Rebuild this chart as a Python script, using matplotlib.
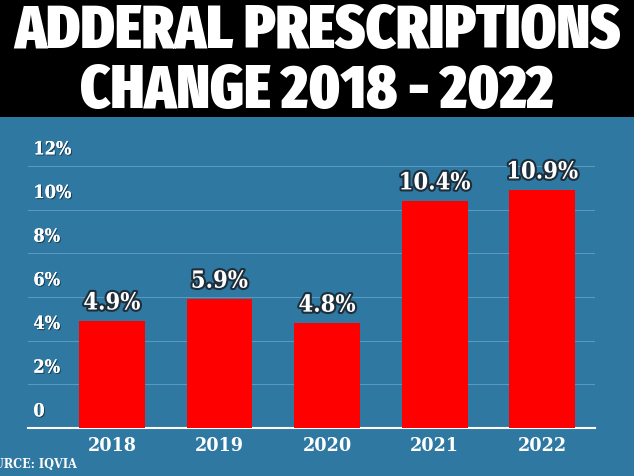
import matplotlib.pyplot as plt
import matplotlib.patheffects as pe

years = ["2018", "2019", "2020", "2021", "2022"]
values = [4.9, 5.9, 4.8, 10.4, 10.9]
yticks = [0, 2, 4, 6, 8, 10, 12]
ytick_labels = ["0", "2%", "4%", "6%", "8%", "10%", "12%"]

BLUE = "#2e78a2"
LABEL_FONT = dict(family="DejaVu Serif", fontstretch="condensed", fontweight="bold")
TITLE_FONT = dict(family="Fira Sans Extra Condensed", fontweight="black")

W, H = 634, 477
fig = plt.figure(figsize=(W / 100, H / 100), dpi=100)
fig.patch.set_facecolor(BLUE)

# black title band
band = fig.add_axes([0, (H - 118) / H, 1, 118 / H])
band.set_facecolor("black")
band.set_xticks([])
band.set_yticks([])
for s in band.spines.values():
    s.set_visible(False)
band.text(0.5, 0.735, "ADDERAL PRESCRIPTIONS", color="white", fontsize=44.5,
          ha="center", va="center", transform=band.transAxes, **TITLE_FONT)
band.text(0.5, 0.225, "CHANGE 2018 - 2022", color="white", fontsize=44.5,
          ha="center", va="center", transform=band.transAxes, **TITLE_FONT)

# main chart
x0, x1 = 28, 595
y0, y1 = 429, 167
ax = fig.add_axes([x0 / W, (H - y0) / H, (x1 - x0) / W, (y0 - y1) / H])
ax.set_facecolor(BLUE)
pos = list(range(len(years)))
ax.bar(pos, values, width=0.61, color="#ff0000", zorder=3)
ax.set_xlim(-0.78, 4.49)
ax.set_ylim(0, 12)

ax.set_yticks(yticks)
ax.set_yticklabels([])
ax.grid(axis="y", color="#5b98bd", linewidth=0.8, zorder=0)
ax.set_xticks(pos)
ax.set_xticklabels(years, color="white", fontsize=14, **LABEL_FONT)
ax.tick_params(length=0, pad=6)
for s in ["top", "right", "left"]:
    ax.spines[s].set_visible(False)
ax.spines["bottom"].set_color("white")
ax.spines["bottom"].set_linewidth(1.5)

shadow = [pe.withSimplePatchShadow(offset=(0.8, -0.8), shadow_rgbFace="#1a3a50", alpha=0.9), pe.Normal()]
for t, lab in zip(yticks, ytick_labels):
    ax.text(-0.73, t + 0.35, lab, color="white", fontsize=13, ha="left",
            va="bottom", path_effects=shadow, **LABEL_FONT)

outline = [pe.withStroke(linewidth=3, foreground="#1e2e3a")]
for p, v in zip(pos, values):
    ax.text(p, v + 0.3, f"{v}%", color="white", fontsize=17, ha="center",
            va="bottom", path_effects=outline, **LABEL_FONT)

fig.text(77 / W, (H - 465) / H, "SOURCE: IQVIA", color="white", fontsize=9,
         ha="right", va="center", **LABEL_FONT)

fig.savefig("out.png", dpi=100, facecolor=fig.get_facecolor())
